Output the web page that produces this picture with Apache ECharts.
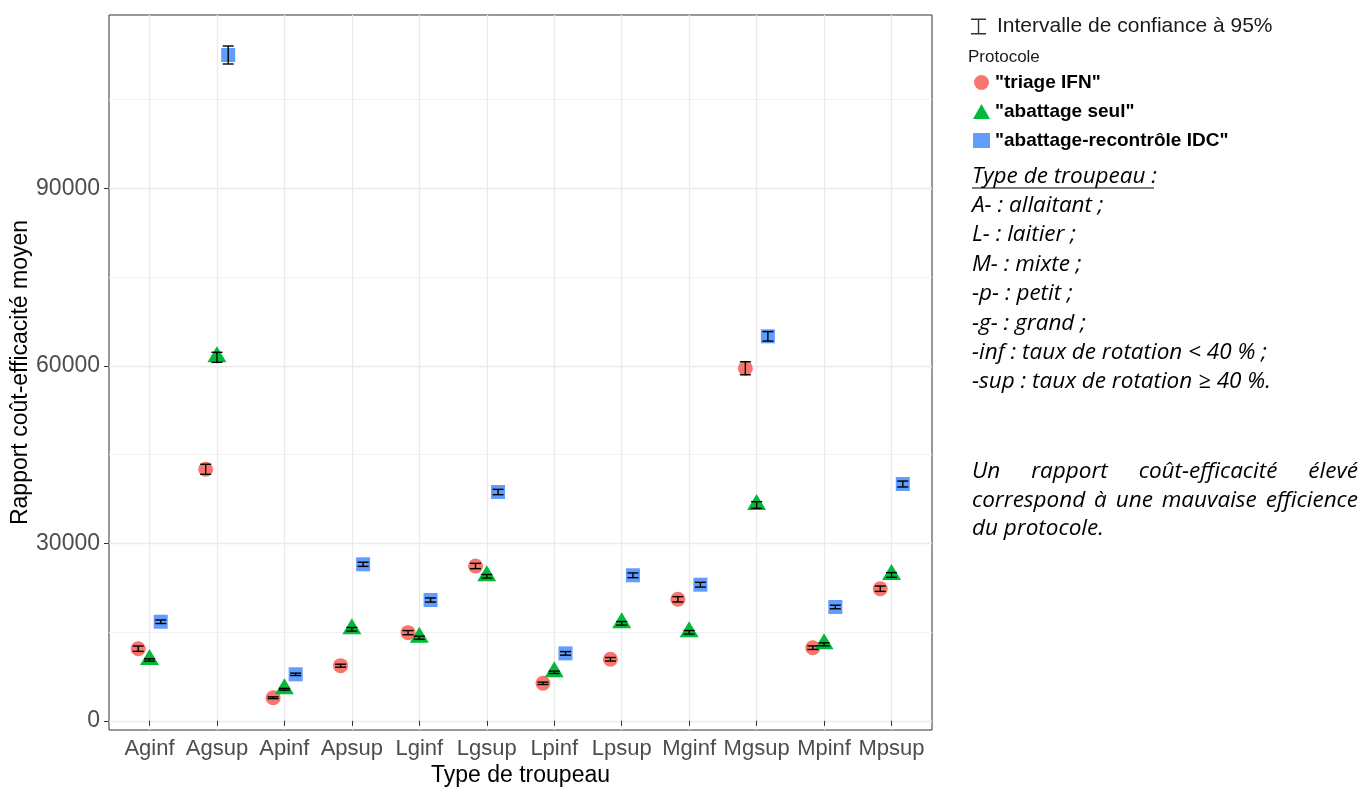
<!DOCTYPE html>
<html><head><meta charset="utf-8">
<script src="https://cdn.jsdelivr.net/npm/echarts@6/dist/echarts.min.js"></script>
<style>html,body{margin:0;padding:0;background:#fff}#c{width:1372px;height:787px}</style>
</head><body><div id="c"></div>
<script>
const categories = ['Aginf','Agsup','Apinf','Apsup','Lginf','Lgsup','Lpinf','Lpsup','Mginf','Mgsup','Mpinf','Mpsup'];
const protocolNames = ['"triage IFN"','"abattage seul"','"abattage-recontrôle IDC"'];
const triageMean = [12190, 42520, 3900, 9320, 14900, 26170, 6340, 10400, 20540, 59600, 12360, 22330];
const triageCI = [450, 850, 150, 250, 350, 450, 200, 300, 450, 1100, 300, 450];
const abattageMean = [10280, 61450, 5330, 15470, 14050, 24430, 8200, 16480, 14960, 36480, 12930, 24650];
const abattageCI = [200, 850, 150, 300, 250, 300, 200, 300, 300, 560, 250, 400];
const recontroleMean = [16750, 112560, 7860, 26460, 20420, 38680, 11400, 24600, 23010, 65000, 19240, 40030];
const recontroleCI = [300, 1520, 200, 350, 350, 450, 300, 400, 400, 800, 300, 500];
const yMajorTicks = [0, 30000, 60000, 90000];
const yMinorTicks = [15000, 45000, 75000, 105000];
const ciLabel = 'Intervalle de confiance à 95%';
const legendTitle = 'Protocole';
const xTitle = 'Type de troupeau';
const yTitle = 'Rapport coût-efficacité moyen';
const noteTitle = 'Type de troupeau :';
const noteLines = ['A- : allaitant ;','L- : laitier ;','M- : mixte ;','-p- : petit ;','-g- : grand ;','-inf : taux de rotation < 40 % ;','-sup : taux de rotation ≥ 40 %.'];
const commentLines = [['Un','rapport','coût-efficacité','élevé'],['correspond','à','une','mauvaise','efficience'],['du protocole.']];

const colors = ['#F8766D','#00BA38','#619CFF'];
const dodge = [-0.167, 0, 0.167];
const means = [triageMean, abattageMean, recontroleMean];
const cis = [triageCI, abattageCI, recontroleCI];
const catPos = categories.map((c,i)=>i+1);

const chart = echarts.init(document.getElementById('c'), null, {renderer:'canvas'});
const baseFont = 'Liberation Sans, Arial, sans-serif';

const pointSeries = means.map((m,p)=>({
  type:'scatter', name: protocolNames[p],
  data: m.map((v,i)=>[catPos[i]+dodge[p], v]),
  symbol: ['circle','triangle','rect'][p],
  symbolSize: [15,[19,16],14][p],
  symbolOffset: [[0,0],[0,-3],[0,0]][p],
  itemStyle:{color:colors[p], opacity:1},
  z: 2, silent:true, animation:false
}));
const errData = [];
means.forEach((m,p)=>m.forEach((v,i)=>errData.push([catPos[i]+dodge[p], v-cis[p][i], v+cis[p][i]])));
const errSeries = {
  type:'custom', name: ciLabel, data: errData, z: 3, silent:true, animation:false,
  encode:{x:0, y:[1,2]},
  itemStyle:{color:'#1a1a1a'},
  renderItem(params, api){
    const x = api.value(0);
    const lo = api.coord([x, api.value(1)]);
    const hi = api.coord([x, api.value(2)]);
    const w = 5.5;
    const st = {stroke:'#000', lineWidth:1.4};
    return {type:'group', children:[
      {type:'line', shape:{x1:lo[0], y1:lo[1], x2:hi[0], y2:hi[1]}, style:st},
      {type:'line', shape:{x1:lo[0]-w, y1:lo[1], x2:lo[0]+w, y2:lo[1]}, style:st},
      {type:'line', shape:{x1:hi[0]-w, y1:hi[1], x2:hi[0]+w, y2:hi[1]}, style:st}
    ]};
  }
};

// right-side notes
const ctx = document.createElement('canvas').getContext('2d');
const noteFontFamily = '"Open Sans", "Noto Sans", sans-serif';
const noteFont = 'italic 22.5px ' + noteFontFamily;
function tw(t){ ctx.font = noteFont; return ctx.measureText(t).width; }
const graphics = [];
const noteX = 972, noteRight = 1358;
function noteText(t, x, y){ return {type:'text', x:x, y:y, style:{text:t, font:noteFont, fill:'#000', verticalAlign:'middle', align:'left'}, silent:true}; }
graphics.push(noteText(noteTitle, noteX, 176.5));
graphics.push({type:'line', shape:{x1:noteX, y1:188, x2:noteX+tw(noteTitle)-3, y2:188}, style:{stroke:'#000', lineWidth:1.2}, silent:true});
noteLines.forEach((t,k)=>graphics.push(noteText(t, noteX, 205.5 + k*29.4)));
const commentY = [472, 500.5, 529];
commentLines.forEach((words,k)=>{
  if (words.length === 1) { graphics.push(noteText(words[0], noteX, commentY[k])); return; }
  const total = words.reduce((s,w)=>s+tw(w),0);
  const gap = (noteRight - noteX - total)/(words.length-1);
  let x = noteX;
  words.forEach(w=>{ graphics.push(noteText(w, x, commentY[k])); x += tw(w)+gap; });
});
graphics.push({type:'text', x:968, y:57.5, style:{text:legendTitle, fontSize:17, fontFamily:baseFont, fill:'#1a1a1a', verticalAlign:'middle'}, silent:true});

const option = {
  animation:false,
  backgroundColor:'#fff',
  grid:{left:109, right:1372-932, top:15, bottom:787-730, show:true, borderColor:'#333', borderWidth:1, backgroundColor:'#fff', containLabel:false, outerBoundsMode:'none'},
  xAxis:[{
    type:'value', min:0.4, max:12.6,
    axisLine:{show:false},
    axisTick:{show:true, length:5, inside:false, customValues:catPos, lineStyle:{color:'#333', width:1}},
    axisLabel:{customValues:catPos, formatter:v=>categories[Math.round(v)-1]||'', color:'#4D4D4D', fontSize:22, fontFamily:baseFont, margin:8},
    splitLine:{show:true, lineStyle:{color:'#EBEBEB', width:1.3}},
    name:xTitle, nameLocation:'middle', nameGap:34, nameMoveOverlap:false, nameTextStyle:{fontSize:23, color:'#000', fontFamily:baseFont}
  }],
  yAxis:[{
    type:'value', min:-1555, max:119324,
    axisLine:{show:false},
    axisTick:{show:true, length:5, customValues:yMajorTicks, lineStyle:{color:'#333', width:1}},
    axisLabel:{customValues:yMajorTicks, formatter:v=>String(v), color:'#4D4D4D', fontSize:23, fontFamily:baseFont, margin:9},
    splitLine:{show:true, lineStyle:{color:'#EBEBEB', width:1.3}},
    name:yTitle, nameLocation:'middle', nameGap:77, nameMoveOverlap:false, nameRotate:90, nameTextStyle:{fontSize:23, color:'#000', fontFamily:baseFont}
  },{
    type:'value', min:-1555, max:119324, position:'left',
    axisLine:{show:false}, axisLabel:{show:false},
    axisTick:{show:false, customValues:yMinorTicks},
    splitLine:{show:true, lineStyle:{color:'#F2F2F2', width:1}}
  }],
  legend:[{
    left:966, top:11, orient:'vertical', selectedMode:false,
    data:[{name:ciLabel, icon:'path://M0,0H15V1.4H8.2V14.6H15V16H0V14.6H6.8V1.4H0Z'}],
    itemWidth:15, itemHeight:16, itemGap:10,
    itemStyle:{color:'#333'},
    textStyle:{fontSize:21, color:'#1a1a1a', fontFamily:baseFont, padding:[0,0,0,6]}
  },{
    left:968, top:68, orient:'vertical', selectedMode:false,
    data:[
      {name:protocolNames[0], icon:'circle', itemStyle:{color:colors[0]}},
      {name:protocolNames[1], icon:'triangle', itemStyle:{color:colors[1]}},
      {name:protocolNames[2], icon:'rect', itemStyle:{color:colors[2]}}
    ],
    itemWidth:17, itemHeight:15, itemGap:10,
    textStyle:{fontSize:19, fontWeight:'bold', color:'#000', fontFamily:baseFont, padding:[0,0,0,0]}
  }],
  graphic: graphics,
  series:[...pointSeries, errSeries]
};
chart.setOption(option);
</script></body></html>
